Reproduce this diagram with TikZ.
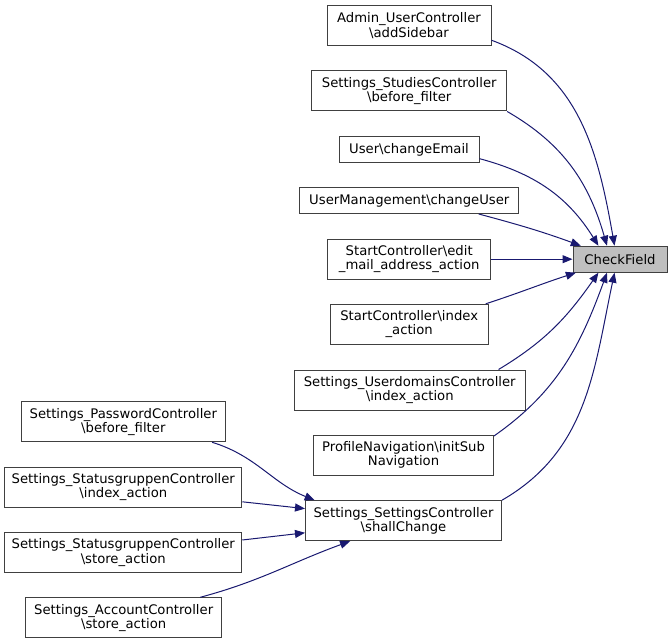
\documentclass[tikz,border=0pt]{standalone}
\usepackage{fontspec}
\setmainfont{DejaVu Sans}
\usetikzlibrary{arrows.meta}
\definecolor{navy}{HTML}{191970}

\begin{document}
\begin{tikzpicture}[x=1pt,y=1pt,
    fn/.style={draw=black!75,line width=1pt,fill=white,align=center,
      inner xsep=3pt,inner ysep=0pt,font=\fontsize{13.2}{14.3}\selectfont},
    one/.style={fn,minimum height=26pt},
    two/.style={fn,minimum height=40pt},
    calls/.style={draw=navy,line width=1pt,-{Triangle[length=10pt,width=8pt]}}]
    \useasboundingbox (0,0) rectangle (672,-644);
    % callers of CheckField
    \node[two,minimum width=164pt] (admin) at (409,-25.7) {Admin\_UserController\\\textbackslash addSidebar};
    \node[two,minimum width=195pt] (studies) at (409.2,-91) {Settings\_StudiesController\\\textbackslash before\_filter};
    \node[one,minimum width=140pt] (email) at (409,-150) {User\textbackslash changeEmail};
    \node[one,minimum width=219pt] (chuser) at (409.3,-200.5) {UserManagement\textbackslash changeUser};
    \node[two,minimum width=163pt] (edit) at (409.2,-259.2) {StartController\textbackslash edit\\\_mail\_address\_action};
    \node[one,minimum width=94pt,fill=black!25] (check) at (620,-259.2) {CheckField};
    \node[two,minimum width=158pt] (sindex) at (409.2,-324.3) {StartController\textbackslash index\\\_action};
    \node[two,minimum width=231pt] (udom) at (409.7,-390) {Settings\_UserdomainsController\\\textbackslash index\_action};
    \node[two,minimum width=180pt] (prof) at (403.5,-455.2) {ProfileNavigation\textbackslash initSub\\Navigation};
    \node[two,minimum width=196pt] (shall) at (403.5,-520.7) {Settings\_SettingsController\\\textbackslash shallChange};
    % callers of shallChange
    \node[two,minimum width=204pt] (pwd) at (123.3,-421.8) {Settings\_PasswordController\\\textbackslash before\_filter};
    \node[two,minimum width=237pt] (sgidx) at (123.3,-487.2) {Settings\_StatusgruppenController\\\textbackslash index\_action};
    \node[two,minimum width=237pt] (sgstore) at (123.3,-552.5) {Settings\_StatusgruppenController\\\textbackslash store\_action};
    \node[two,minimum width=196pt] (acct) at (123.7,-617.8) {Settings\_AccountController\\\textbackslash store\_action};

    \draw[calls] (admin.-10) to[out=-20,in=100] (check.112);
    \draw[calls] (studies.south east) to[out=-30,in=106] (check.134);
    \draw[calls] (email.-7) to[out=-15,in=122] (check.148);
    \draw[calls] (chuser.-11) to[out=-15,in=160] (check.161);
    \draw[calls] (edit.east) -- (check.west);
    \draw[calls] (sindex.15) to[out=18,in=198] (check.197);
    \draw[calls] (udom.13) to[out=31,in=235] (check.212);
    \draw[calls] (prof.12) to[out=35,in=250] (check.226);
    \draw[calls] (shall.north east) to[out=30,in=258] (check.248);

    \draw[calls] (pwd.-13) to[out=-17,in=158] (shall.167);
    \draw[calls] (sgidx.-7) -- (shall.173);
    \draw[calls] (sgstore.6) -- (shall.187);
    \draw[calls] (acct.15) to[out=15,in=200] (shall.201);
  \end{tikzpicture}
\end{document}
